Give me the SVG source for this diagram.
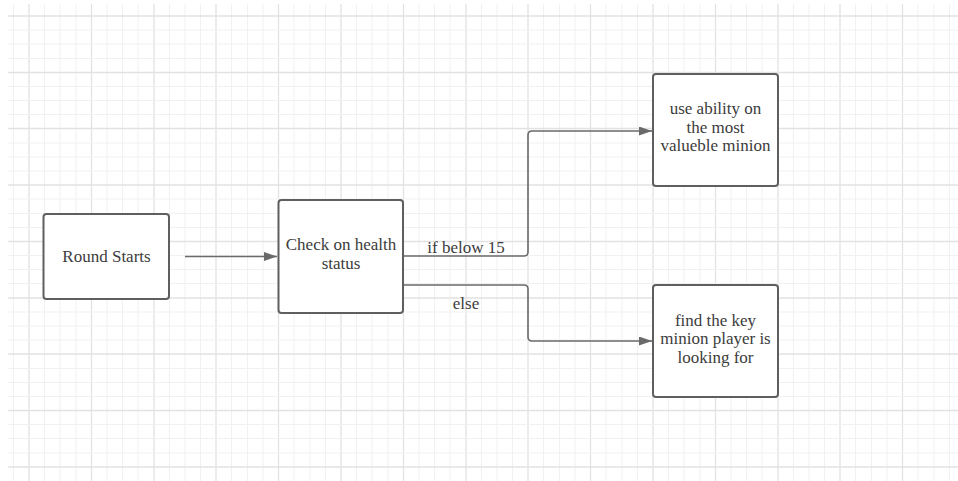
<svg xmlns="http://www.w3.org/2000/svg" width="958" height="481" viewBox="0 0 958 481">
<style>
.minor{stroke:#f1f1f1;stroke-width:1;fill:none}
.major{stroke:#e2e2e2;stroke-width:1.3;fill:none}
.box{fill:#ffffff;stroke:#5f5f5f;stroke-width:2}
.lbl{font-family:"Liberation Serif","Times New Roman",serif;font-size:17px;fill:#3c3c3c;text-anchor:middle}
.conn{fill:none;stroke:#6a6a6a;stroke-width:1.6}
</style>
<defs>
<marker id="arr" markerUnits="userSpaceOnUse" markerWidth="14" markerHeight="10" refX="13" refY="4.5" orient="auto">
<path d="M0,0 L13,4.5 L0,9 z" fill="#6a6a6a"/>
</marker>
</defs>
<rect width="958" height="481" fill="#ffffff"/>
<g id="grid">
<path class="minor" d="M13.5,4V481M44.5,4V481M60,4V481M76,4V481M107,4V481M122.5,4V481M138,4V481M169.5,4V481M185,4V481M200.5,4V481M231.5,4V481M247.5,4V481M263,4V481M294,4V481M310,4V481M325.5,4V481M356.5,4V481M372,4V481M388,4V481M419,4V481M434.5,4V481M450,4V481M481.5,4V481M497,4V481M512.5,4V481M543.5,4V481M559.5,4V481M575,4V481M606,4V481M622,4V481M637.5,4V481M668.5,4V481M684,4V481M700,4V481M731,4V481M746.5,4V481M762,4V481M793.5,4V481M809,4V481M824.5,4V481M855.5,4V481M871.5,4V481M887,4V481M918,4V481M934,4V481M949.5,4V481"/>
<path class="major" d="M29,4V481M91.5,4V481M154,4V481M216,4V481M278.5,4V481M341,4V481M403.5,4V481M466,4V481M528,4V481M590.5,4V481M653,4V481M715.5,4V481M778,4V481M840,4V481M902.5,4V481"/>
<path class="minor" d="M8,30H958M8,44H958M8,58.5H958M8,86.5H958M8,100.5H958M8,114.5H958M8,143H958M8,157H958M8,171H958M8,199H958M8,213.5H958M8,227.5H958M8,255.5H958M8,269.5H958M8,283.5H958M8,312H958M8,326H958M8,340H958M8,368.5H958M8,382.5H958M8,396.5H958M8,424.5H958M8,438.5H958M8,453H958"/>
<path class="major" d="M8,16H958M8,72.5H958M8,128.5H958M8,185H958M8,241.5H958M8,298H958M8,354H958M8,410.5H958M8,467H958"/>
</g>
<g id="connectors">
<path class="conn" d="M185,256.5H277" marker-end="url(#arr)"/>
<path class="conn" d="M403,256H524Q528,256 528,252V135Q528,131 532,131H652" marker-end="url(#arr)"/>
<path class="conn" d="M403,285H524Q528,285 528,289V337Q528,341 532,341H652" marker-end="url(#arr)"/>
<text class="lbl" x="466" y="253">if below 15</text>
<text class="lbl" x="466" y="309">else</text>
</g>
<g id="round-starts">
<rect class="box" x="43.5" y="214" width="125.5" height="85" rx="3"/>
<text class="lbl" x="106.5" y="262">Round Starts</text>
</g>
<g id="check-health">
<rect class="box" x="278.5" y="200" width="124.5" height="113" rx="3"/>
<text class="lbl" x="341" y="250">Check on health</text>
<text class="lbl" x="341" y="269">status</text>
</g>
<g id="use-ability">
<rect class="box" x="653" y="74" width="125" height="112" rx="3"/>
<text class="lbl" x="715.5" y="114">use ability on</text>
<text class="lbl" x="715.5" y="132.5">the most</text>
<text class="lbl" x="715.5" y="151">valueble minion</text>
</g>
<g id="find-key">
<rect class="box" x="653" y="285" width="125" height="112" rx="3"/>
<text class="lbl" x="715.5" y="325.5">find the key</text>
<text class="lbl" x="715.5" y="344">minion player is</text>
<text class="lbl" x="715.5" y="362.5">looking for</text>
</g>
</svg>
